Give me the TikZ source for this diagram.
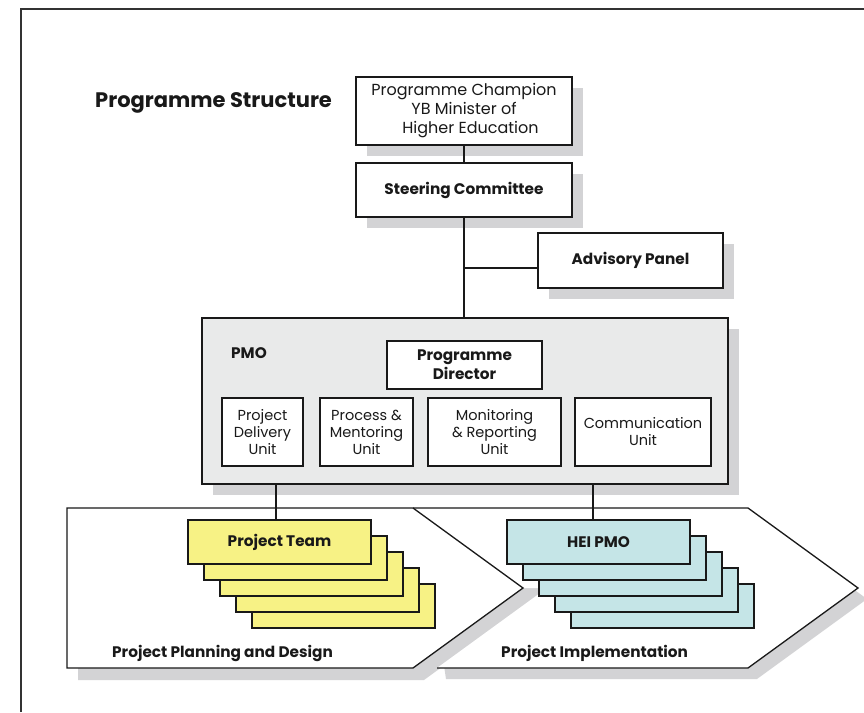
\documentclass[tikz,border=0pt]{standalone}
\usepackage{fontspec}
\setmainfont{Poppins}
\usetikzlibrary{shadows}
\definecolor{shgray}{RGB}{211,211,213}
\definecolor{pmogray}{RGB}{233,234,234}
\definecolor{pyellow}{RGB}{247,242,133}
\definecolor{pcyan}{RGB}{197,229,231}
\definecolor{lc}{RGB}{25,25,25}
\begin{document}
\begin{tikzpicture}[x=1pt,y=-1pt,
  box/.style={draw=lc, line width=1.5pt, fill=white, rectangle, inner sep=0pt, align=center, text=lc},
  shbox/.style={box, general shadow={fill=shgray, shadow xshift=11pt, shadow yshift=-11pt}},
  reg/.style={font=\fontsize{14.5}{17}\selectfont},
  regbig/.style={font=\fontsize{16}{19}\selectfont},
  bld/.style={font=\fontsize{15.3}{19}\selectfont\bfseries},
  conn/.style={draw=lc, line width=1.2pt},
  chevline/.style={draw=lc, line width=1.3pt},
  ystack/.style={box, fill=pyellow, minimum width=183pt, minimum height=44pt},
  cstack/.style={box, fill=pcyan, minimum width=183pt, minimum height=44pt}]
\useasboundingbox (0,0) rectangle (864,712);
\fill[white] (0,0) rectangle (864,712);
% frame
\draw[line width=1.3pt, color=black!80] (21,712) -- (21,9) -- (864,9);
% title
\node[text=lc, font=\fontsize{21}{24}\selectfont\bfseries, anchor=west, inner sep=0pt] (title) at (95,102.5) {Programme Structure};
% top boxes
\node[shbox, regbig, minimum width=216pt, minimum height=68pt] (champ) at (464,111)
  {\rule{0pt}{3pt}\\[-11pt]Programme Champion\\YB Minister of\\\hspace*{13pt}Higher Education};
\node[shbox, bld, minimum width=216pt, minimum height=54pt] (steer) at (464,190) {Steering Committee};
\node[shbox, bld, minimum width=185pt, minimum height=55pt] (adv) at (630.5,260.5) {Advisory Panel};
% PMO
\node[shbox, fill=pmogray, minimum width=526pt, minimum height=166pt] (pmo) at (465,401) {};
\node[bld, text=lc] (pmolbl) at (249,353) {PMO};
\node[box, bld, minimum width=155pt, minimum height=48pt] (dir) at (464.5,365) {Programme\\Director};
\node[box, reg, minimum width=81pt, minimum height=68pt] (u1) at (262.5,432) {Project\\Delivery\\Unit};
\node[box, reg, minimum width=93pt, minimum height=68pt] (u2) at (366.5,432) {Process \&\\Mentoring\\Unit};
\node[box, reg, minimum width=133pt, minimum height=68pt] (u3) at (494.5,432) {Monitoring\\\& Reporting\\Unit};
\node[box, reg, minimum width=136pt, minimum height=68pt] (u4) at (643,432) {Communication\\Unit};
% connectors top
\draw[conn] (champ.south) -- (steer.north);
\draw[conn] (steer.south) -- (steer.south |- pmo.north);
\coordinate (j) at (464,268);
\draw[conn] (j) -- (j -| adv.west);
% chevrons: left shadow, right chevron (with shadow), left chevron
\fill[shgray, shift={(11,12)}] (67,508) -- (413,508) -- (523,588) -- (413,668) -- (67,668) -- cycle;
\fill[shgray, shift={(9,11)}] (413,508) -- (748,508) -- (858,588) -- (748,668) -- (437,668) -- cycle;
\fill[white] (413,508) -- (748,508) -- (858,588) -- (748,668) -- (437,668) -- (547,588) -- (523,588) -- cycle;
\draw[chevline, line join=miter] (413,508) -- (748,508) -- (858,588) -- (748,668) -- (437,668);
\path[chevline, fill=white] (67,508) -- (413,508) -- (523,588) -- (413,668) -- (67,668) -- cycle;
\node[bld, text=lc, anchor=west, inner sep=0pt] (ppd) at (112,653) {Project Planning and Design};
\node[bld, text=lc, anchor=west, inner sep=0pt] (pim) at (501,653) {Project Implementation};
% stacks
\node[ystack] (pt5) at (343.5,606) {};
\node[ystack] (pt4) at (327.5,590) {};
\node[ystack] (pt3) at (311.5,574) {};
\node[ystack] (pt2) at (295.5,558) {};
\node[ystack, bld] (pt1) at (279.5,542) {Project Team};
\node[cstack] (hp5) at (662.5,606) {};
\node[cstack] (hp4) at (646.5,590) {};
\node[cstack] (hp3) at (630.5,574) {};
\node[cstack] (hp2) at (614.5,558) {};
\node[cstack, bld] (hp1) at (598.5,542) {HEI PMO};
% connectors bottom
\coordinate (a1) at (276,484);
\coordinate (a2) at (593,484);
\draw[conn] (a1) -- (a1 |- pt1.north);
\draw[conn] (a2) -- (a2 |- hp1.north);
\end{tikzpicture}
\end{document}
